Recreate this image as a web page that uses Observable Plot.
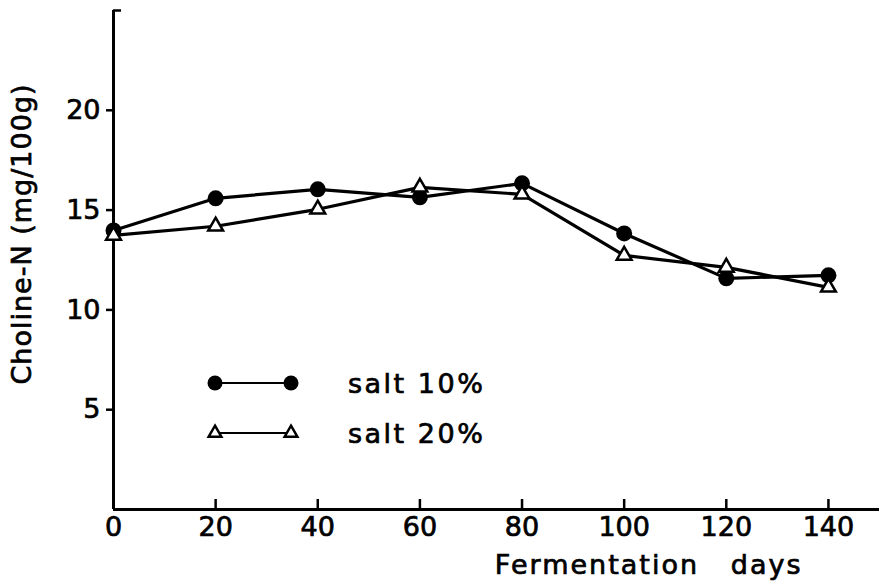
<!DOCTYPE html>
<html><head><meta charset="utf-8">
<script src="https://cdn.jsdelivr.net/npm/d3@7"></script>
<script src="https://cdn.jsdelivr.net/npm/@observablehq/plot@0.6"></script>
<style>
body{margin:0;background:#fff;}
#wrap{position:relative;width:883px;height:584px;font-family:'DejaVu Sans',sans-serif;}
#legend{position:absolute;left:200px;top:358px;}
.row{display:flex;align-items:center;height:50px;}
.row span{font-size:27px;margin-left:38px;color:#000;letter-spacing:2.5px;-webkit-text-stroke:0.7px #000;}
svg text{stroke:#000;stroke-width:0.7px;}
</style></head><body><div id="wrap"><div id="legend"></div></div>
<script>
const days = [0, 20, 40, 60, 80, 100, 120, 140];
const salt10 = [13.98, 15.59, 16.04, 15.64, 16.34, 13.83, 11.58, 11.73];
const salt20 = [13.73, 14.19, 15.04, 16.14, 15.79, 12.73, 12.13, 11.13];
const seriesNames = ["salt 10%", "salt 20%"];
const xTicks = [0, 20, 40, 60, 80, 100, 120, 140];
const yTicks = [5, 10, 15, 20];
const xLabel = "Fermentation   days";
const yLabel = "Choline-N (mg/100g)";

const rows10 = days.map((d, i) => ({day: d, value: salt10[i]}));
const rows20 = days.map((d, i) => ({day: d, value: salt20[i]}));

const chart = Plot.plot({
  width: 883, height: 584,
  marginLeft: 113, marginRight: 4, marginTop: 10, marginBottom: 75,
  x: {domain: [0, 150]},
  y: {domain: [0, 25]},
  style: {fontFamily: "'DejaVu Sans', sans-serif", fontSize: "27px", color: "#000", background: "#fff"},
  marks: [
    Plot.ruleX([0], {y1: 0, y2: 25, strokeWidth: 3}),
    Plot.ruleY([0], {x1: 0, x2: 150, strokeWidth: 3}),
    Plot.axisY(yTicks, {tickSize: 7, tickPadding: 6, strokeWidth: 2.5, fontSize: 27, label: null}),
    Plot.axisY([25], {tickSize: -8, text: null, strokeWidth: 2.5, label: null}),
    Plot.axisX(xTicks.filter(d => d > 0), {tickSize: -10, text: null, strokeWidth: 2.5, label: null}),
    Plot.axisX(xTicks, {tickSize: 0, tickPadding: 7, fontSize: 27, label: null}),
    Plot.line(rows10, {x: "day", y: "value", strokeWidth: 3.2, stroke: "black"}),
    Plot.line(rows20, {x: "day", y: "value", strokeWidth: 3.2, stroke: "black"}),
    Plot.dot(rows10, {x: "day", y: "value", r: 8, fill: "black"}),
    Plot.dot(rows20, {x: "day", y: "value", symbol: "triangle", r: 5.5, fill: "white", stroke: "black", strokeWidth: 2.5}),
    Plot.text([xLabel], {frameAnchor: "bottom-right", textAnchor: "end", lineAnchor: "bottom", dx: -77, dy: 64, fontSize: 27, className: "xtitle"}),
    Plot.text([yLabel], {frameAnchor: "left", textAnchor: "middle", lineAnchor: "middle", rotate: -90, dx: -91, dy: -26, fontSize: 27, className: "ytitle"})
  ]
});
document.getElementById("wrap").prepend(chart);
d3.select(chart).selectAll(".xtitle text").style("white-space", "pre").style("letter-spacing", "2px");
d3.select(chart).selectAll(".ytitle text").style("letter-spacing", "1px");

// legend
const legend = d3.select("#legend");
seriesNames.forEach((name, i) => {
  const row = legend.append("div").attr("class", "row");
  const svg = row.append("svg").attr("width", 110).attr("height", 30);
  svg.append("line").attr("x1", 15).attr("x2", 91).attr("y1", 15).attr("y2", 15)
    .attr("stroke", "black").attr("stroke-width", 2);
  [15, 91].forEach(cx => {
    if (i === 0) {
      svg.append("circle").attr("cx", cx).attr("cy", 15).attr("r", 7.5).attr("fill", "black");
    } else {
      svg.append("path").attr("d", d3.symbol(d3.symbolTriangle, 70)())
        .attr("transform", `translate(${cx},15)`)
        .attr("fill", "white").attr("stroke", "black").attr("stroke-width", 2.5);
    }
  });
  row.append("span").text(name);
});
</script>
</body></html>
